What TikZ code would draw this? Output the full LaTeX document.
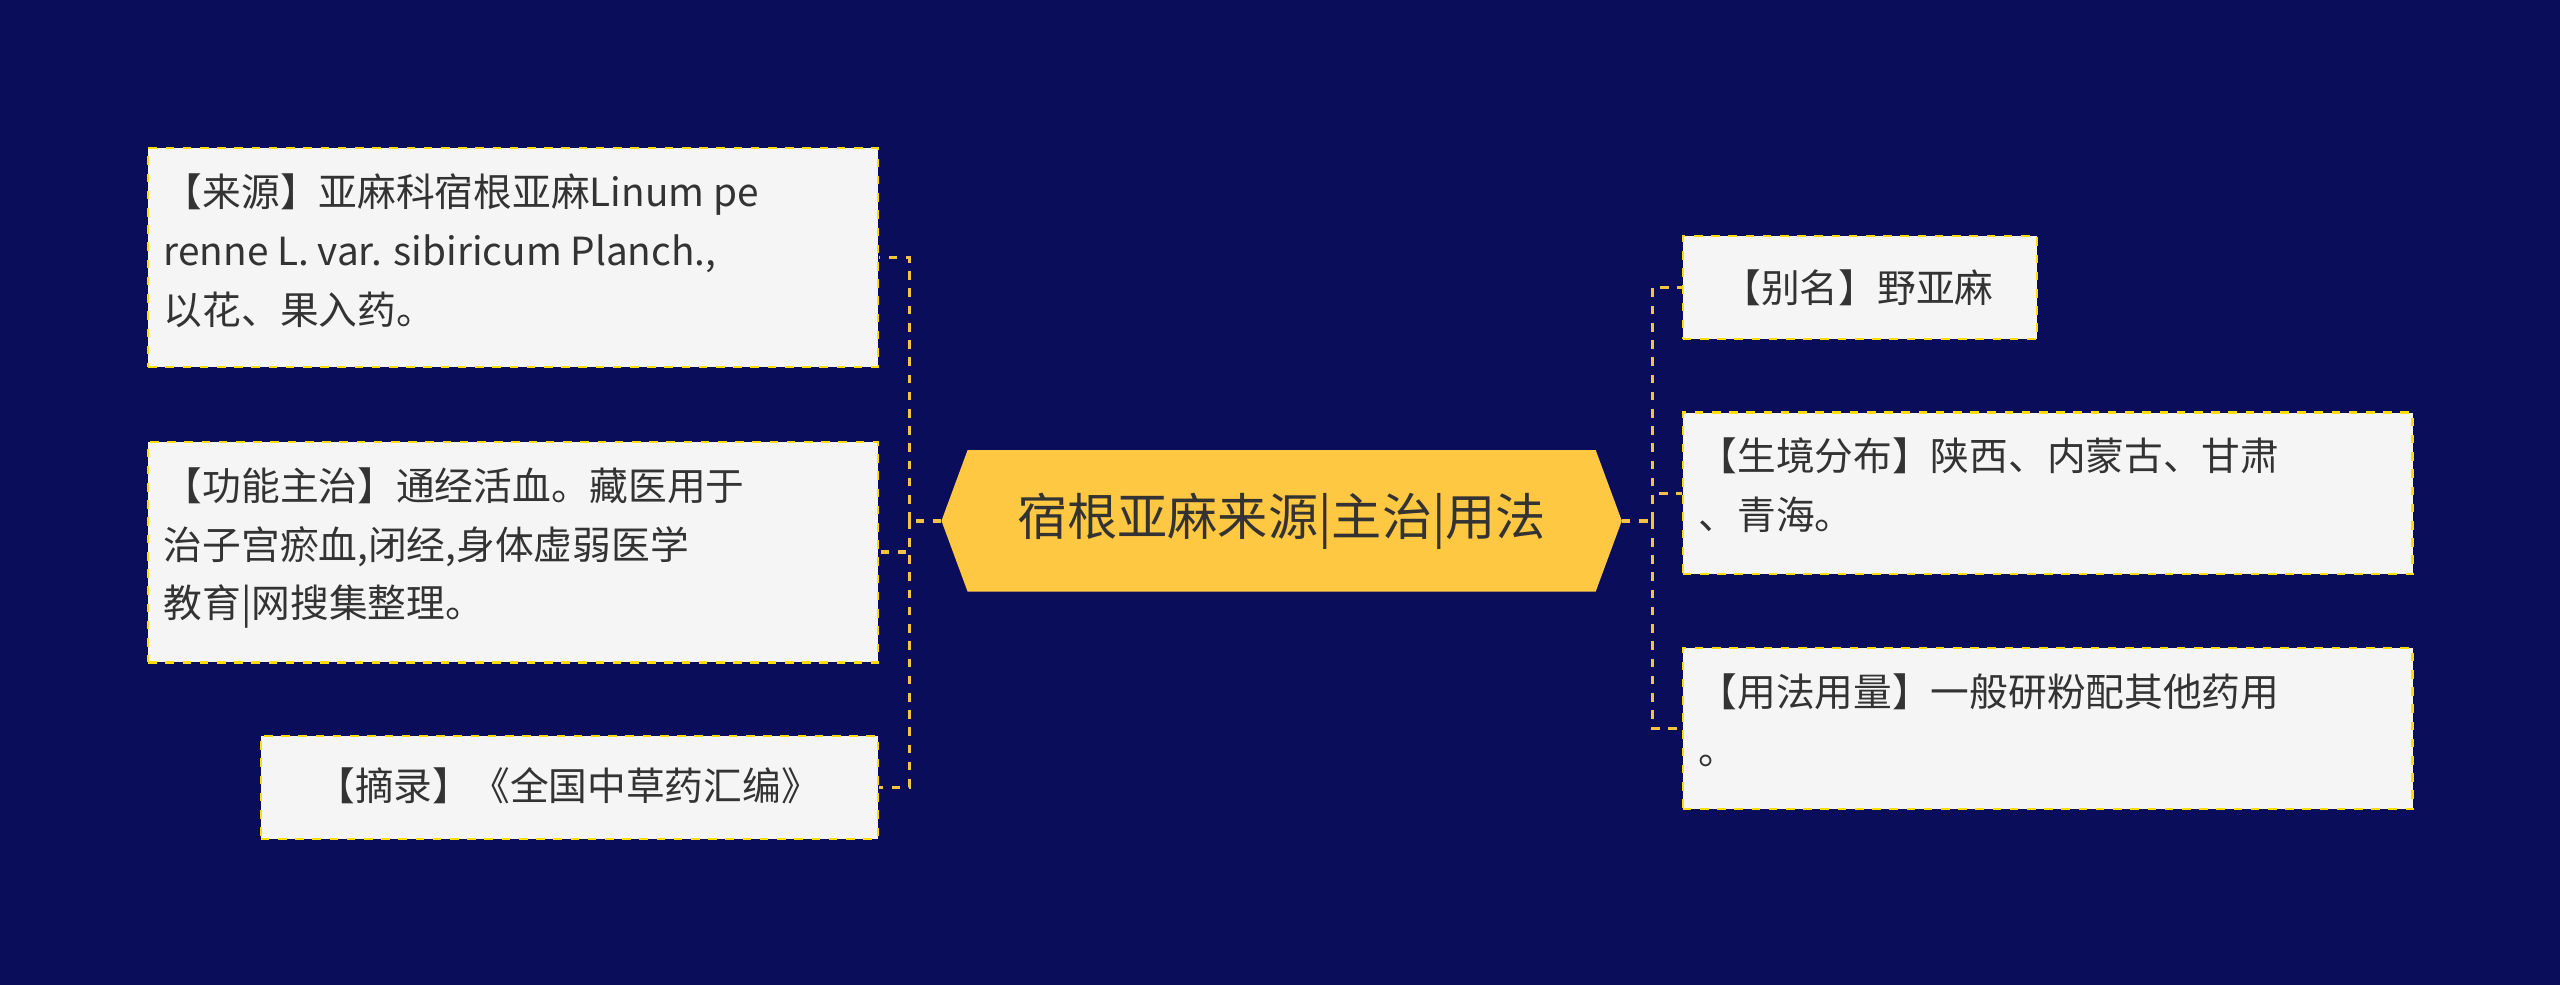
\documentclass[tikz,border=0pt]{standalone}
\usepackage{fontspec}
\setmainfont{Noto Sans CJK SC}
\begin{document}
\begin{tikzpicture}[x=0.02cm,y=-0.02cm,
  leaf/.style={draw=yellow!80!orange, dashed, fill=white!96!black, line width=0.8pt, anchor=north west, align=left, inner sep=0pt, font=\fontsize{13.5}{20.5}\selectfont, text=black!80},
  conn/.style={draw={rgb,255:red,245;green,195;blue,66}, dashed, line width=1.2pt}]
\definecolor{bg}{HTML}{0A0E5A}
\definecolor{hx}{HTML}{FFC843}
\fill[bg] (0,0) rectangle (1568,603);
% center
\node (c) [minimum width=416*0.02cm, minimum height=86*0.02cm, inner sep=0pt] at (785,319) {};
\fill[hx] (c.west) -- ([xshift=16*0.02cm]c.north west) -- ([xshift=-16*0.02cm]c.north east) -- (c.east) -- ([xshift=-16*0.02cm]c.south east) -- ([xshift=16*0.02cm]c.south west) -- cycle;
\node[font=\fontsize{17.5}{20}\selectfont, text=black!80] at (c) {宿根亚麻来源|主治|用法};
% left boxes
\node[leaf, minimum width=447*0.02cm, minimum height=134*0.02cm] (l1) at (90,90) {};
\node[align=left, anchor=north west, inner sep=0pt, font=\fontsize{13.5}{20.5}\selectfont, text=black!80] at (100,106) {【来源】亚麻科宿根亚麻Linum pe\\renne L. var. sibiricum Planch.,\\以花、果入药。};
\node[leaf, minimum width=447*0.02cm, minimum height=135*0.02cm] (l2) at (90,270) {};
\node[align=left, anchor=north west, inner sep=0pt, font=\fontsize{13.5}{20.5}\selectfont, text=black!80] at (100,286) {【功能主治】通经活血。藏医用于\\治子宫瘀血,闭经,身体虚弱医学\\教育|网搜集整理。};
\node[leaf, minimum width=378*0.02cm, minimum height=63*0.02cm] (l3) at (159,450) {};
\node[font=\fontsize{13.5}{20.5}\selectfont, text=black!80] at (348,481) {【摘录】《全国中草药汇编》};
% right boxes
\node[leaf, minimum width=217*0.02cm, minimum height=63*0.02cm] (r1) at (1030,144) {};
\node[font=\fontsize{13.5}{20.5}\selectfont, text=black!80] at (1138,176) {【别名】野亚麻};
\node[leaf, minimum width=447*0.02cm, minimum height=99*0.02cm] (r2) at (1030,252) {};
\node[align=left, anchor=north west, inner sep=0pt, font=\fontsize{13.5}{20.5}\selectfont, text=black!80] at (1040,268) {【生境分布】陕西、内蒙古、甘肃\\、青海。};
\node[leaf, minimum width=447*0.02cm, minimum height=99*0.02cm] (r3) at (1030,396) {};
\node[align=left, anchor=north west, inner sep=0pt, font=\fontsize{13.5}{20.5}\selectfont, text=black!80] at (1040,412) {【用法用量】一般研粉配其他药用\\。};
% connectors
\coordinate (lj) at (557,319);
\coordinate (rj) at (1012,319);
\draw[conn] (c.west) -- (lj);
\draw[conn] (lj) |- (l1.east);
\draw[conn] (lj) |- (l2.east);
\draw[conn] (lj) |- (l3.east);
\draw[conn] (c.east) -- (rj);
\draw[conn] (rj) |- (r1.west);
\draw[conn] (rj) |- (r2.west);
\draw[conn] (rj) |- (r3.west);
\end{tikzpicture}
\end{document}
